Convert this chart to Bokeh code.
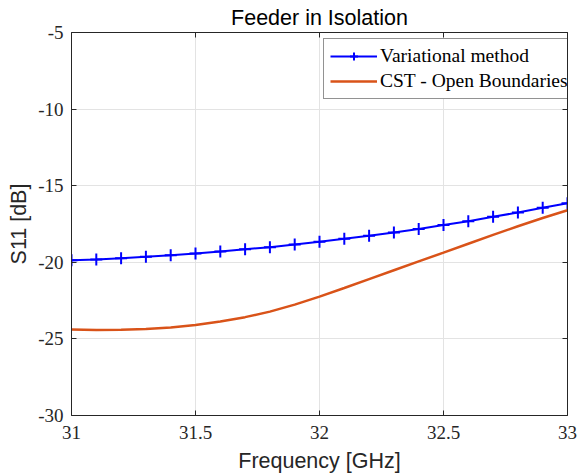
from bokeh.plotting import figure
from bokeh.models import LinearAxis, Range1d, Legend, LegendItem, FixedTicker, NumeralTickFormatter, CustomJSTickFormatter
from bokeh.embed import file_html
from bokeh.resources import INLINE

freq = [31.0, 31.1, 31.2, 31.3, 31.4, 31.5, 31.6, 31.7, 31.8, 31.9, 32.0,
        32.1, 32.2, 32.3, 32.4, 32.5, 32.6, 32.7, 32.8, 32.9, 33.0]
variational = [-19.87, -19.81, -19.73, -19.64, -19.54, -19.42, -19.29, -19.15, -19.01, -18.84, -18.66,
               -18.47, -18.27, -18.05, -17.83, -17.57, -17.32, -17.03, -16.75, -16.44, -16.14]
cst = [-24.38, -24.42, -24.41, -24.35, -24.25, -24.09, -23.86, -23.58, -23.22, -22.76, -22.24,
       -21.68, -21.10, -20.52, -19.94, -19.37, -18.79, -18.21, -17.65, -17.11, -16.60]
x_ticks = [31, 31.5, 32, 32.5, 33]
y_ticks = [-30, -25, -20, -15, -10, -5]

AX = "#262626"
SERIF = "Liberation Serif"
SANS = "Liberation Sans"

p = figure(width=578, height=476, output_backend="svg", toolbar_location=None,
           x_range=Range1d(31, 33), y_range=Range1d(-30, -5),
           min_border_left=71, min_border_right=11, min_border_top=32, min_border_bottom=61,
           title="Feeder in Isolation", x_axis_label="Frequency [GHz]", y_axis_label="S11 [dB]")
p.outline_line_color = None
p.title.align = "center"
p.title.text_font = SANS
p.title.text_font_size = "21.5px"
p.title.text_font_style = "normal"
p.title.text_color = "#000000"
p.title.standoff = 5

for ax in (p.xaxis[0], p.yaxis[0]):
    ax.axis_line_color = AX
    ax.major_tick_line_color = AX
    ax.major_tick_in = 5
    ax.major_tick_out = 0
    ax.minor_tick_line_color = None
    ax.major_label_text_font = SERIF
    ax.major_label_text_font_size = "19px"
    ax.major_label_text_color = "#262626"
    ax.axis_label_text_font = SANS
    ax.axis_label_text_font_size = "21.5px"
    ax.axis_label_text_font_style = "normal"
    ax.axis_label_text_color = "#262626"
    ax.formatter = NumeralTickFormatter(format="0.[0]")
p.xaxis[0].ticker = FixedTicker(ticks=x_ticks)
p.yaxis[0].ticker = FixedTicker(ticks=y_ticks)
p.xaxis[0].major_label_standoff = 10
p.yaxis[0].major_label_standoff = 8
p.xaxis[0].axis_label_standoff = 7
p.yaxis[0].axis_label_standoff = 4

for loc, tk in (("above", x_ticks), ("right", y_ticks)):
    a = LinearAxis(ticker=FixedTicker(ticks=tk), formatter=CustomJSTickFormatter(code="return ''"))
    a.axis_line_color = AX
    a.major_tick_line_color = AX
    a.major_tick_in = 5
    a.major_tick_out = 0
    a.minor_tick_line_color = None
    a.major_label_standoff = 0
    p.add_layout(a, loc)

p.xgrid.ticker = FixedTicker(ticks=x_ticks)
p.ygrid.ticker = FixedTicker(ticks=y_ticks)
p.grid.grid_line_color = "#e3e3e3"
p.grid.grid_line_width = 1

r1 = p.line(freq, variational, line_color="#0000ff", line_width=2)
r2 = p.scatter(freq, variational, marker="cross", size=12, line_color="#0000ff", line_width=2)
r3 = p.line(freq, cst, line_color="#D95319", line_width=2.5)

legend = Legend(items=[LegendItem(label="Variational method", renderers=[r1, r2]),
                       LegendItem(label="CST - Open Boundaries", renderers=[r3])],
                location=(252, 316))
legend.label_text_font = SERIF
legend.label_text_font_size = "19.5px"
legend.label_text_color = "#000000"
legend.border_line_color = "#262626"
legend.border_line_width = 1
legend.background_fill_alpha = 1
legend.glyph_width = 47
legend.glyph_height = 20
legend.label_height = 20
legend.label_standoff = 3
legend.spacing = 3
legend.padding = 6
legend.margin = 0
p.add_layout(legend, "center")

open("out.html", "w").write(file_html(p, INLINE))
